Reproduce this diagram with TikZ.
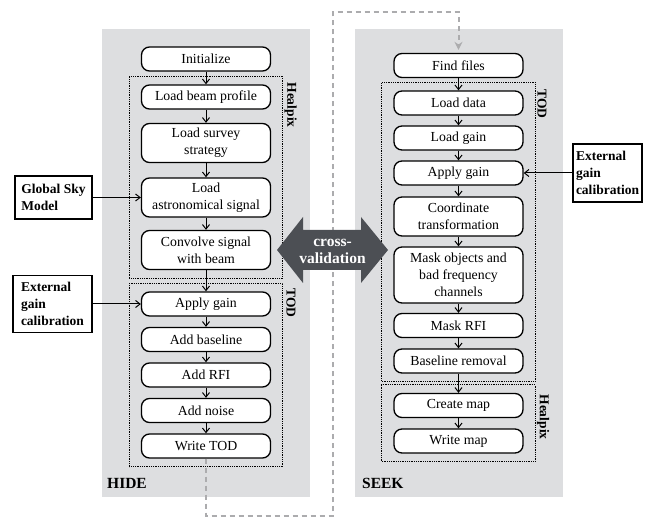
\documentclass[tikz,border=0pt]{standalone}
\usepackage{fontspec}
\setmainfont{Liberation Serif}
\usetikzlibrary{positioning,fit,backgrounds,arrows.meta}

\definecolor{panelgray}{RGB}{221,222,224}
\definecolor{loopgray}{RGB}{172,172,174}
\definecolor{xvalgray}{RGB}{76,79,84}

\begin{document}
\begin{tikzpicture}[x=1pt, y=-1pt,
  stepbox/.style={rectangle, rounded corners=8pt, draw, line width=1.3pt, fill=white, minimum width=129pt, minimum height=24pt, align=center, inner sep=0pt, font=\fontsize{13.8}{17}\selectfont},
  twoline/.style={minimum height=39pt},
  threeline/.style={minimum height=56pt},
  extbox/.style={rectangle, draw, line width=1.3pt, fill=white, align=left, inner sep=0pt, font=\bfseries\fontsize{13.5}{17}\selectfont},
  group/.style={draw, densely dotted, line width=0.8pt, inner xsep=11.5pt, inner ysep=8pt},
  grouplabel/.style={rotate=-90, font=\bfseries\fontsize{13.5}{14}\selectfont, inner sep=0pt},
  panellabel/.style={font=\bfseries\fontsize{15.5}{18}\selectfont, inner sep=0pt},
  flow/.style={-{Straight Barb[length=4.5pt, width=7pt]}, line width=1pt},
  loopline/.style={draw=loopgray, line width=2pt, dash pattern=on 5pt off 4pt, -{Stealth[length=8pt, width=8pt]}},
]
\useasboundingbox (0,0) rectangle (665,532);

% HIDE
\node[stepbox] (init) at (206,59) {Initialize};
\node[stepbox] (beam) at (206,97) {Load beam profile};
\node[stepbox, twoline] (survey) at (206,143) {Load survey\\strategy};
\node[stepbox, twoline] (astro) at (206,197.5) {Load\\astronomical signal};
\node[stepbox, twoline] (conv) at (206,250) {Convolve signal\\with beam};
\node[stepbox] (hgain) at (206,304) {Apply gain};
\node[stepbox] (hbase) at (206,339.5) {Add baseline};
\node[stepbox] (hrfi) at (206,375) {Add RFI};
\node[stepbox] (hnoise) at (206,410.5) {Add noise};
\node[stepbox] (wtod) at (206,446) {Write TOD};

% SEEK
\node[stepbox] (find) at (458.5,65.5) {Find files};
\node[stepbox] (ldata) at (458.5,103) {Load data};
\node[stepbox] (lgain) at (458.5,138) {Load gain};
\node[stepbox] (sgain) at (458.5,173) {Apply gain};
\node[stepbox, twoline] (coord) at (458.5,216.5) {Coordinate\\transformation};
\node[stepbox, threeline] (mask) at (458.5,275) {Mask objects and\\bad frequency\\channels};
\node[stepbox] (srfi) at (458.5,325.5) {Mask RFI};
\node[stepbox] (sbase) at (458.5,361) {Baseline removal};
\node[stepbox] (create) at (458.5,405.5) {Create map};
\node[stepbox] (wmap) at (458.5,441) {Write map};

% groups
\node[group, fit=(beam)(conv)] (hhpx) {};
\node[group, fit=(hgain)(wtod)] (htod) {};
\node[group, fit=(ldata)(sbase)] (stod) {};
\node[group, fit=(create)(wmap)] (shpx) {};
\node[grouplabel] (hhpxlbl) at (290.5,105) {Healpix};
\node[grouplabel] (htodlbl) at (291,303) {TOD};
\node[grouplabel] (stodlbl) at (542,104) {TOD};
\node[grouplabel] (shpxlbl) at (543,417) {Healpix};

% inputs
\node[extbox, minimum width=77pt, minimum height=43pt] (gsm) at (53.5,197.5) {Global Sky\\Model};
\node[extbox, minimum width=79pt, minimum height=57pt] (hcal) at (52.5,304) {External\\gain\\calibration};
\node[extbox, minimum width=69pt, minimum height=58pt] (scal) at (607.5,173) {External\\gain\\calibration};

\foreach \a/\b in {init/beam, beam/survey, survey/astro, astro/conv, conv/hgain,
  hgain/hbase, hbase/hrfi, hrfi/hnoise, hnoise/wtod,
  find/ldata, ldata/lgain, lgain/sgain, sgain/coord, coord/mask, mask/srfi,
  srfi/sbase, sbase/create, create/wmap}
  \draw[flow] (\a) -- (\b);
\draw[flow] (gsm) -- (astro);
\draw[flow] (hcal) -- (hgain);
\draw[flow] (scal) -- (sgain);

% loop between the two codes
\coordinate (loopa) at (333,516);
\coordinate (loopb) at (333,12);
\draw[loopline, shorten >=3pt] (wtod.south) |- (loopa) -- (loopb) -| (find.north);

% cross-validation
\fill[xvalgray] (277,250) -- (303,217) -- (303,230) -- (361,230) -- (361,217)
  -- (388,250) -- (361,283) -- (361,270) -- (303,270) -- (303,283) -- cycle;
\node[text=white, align=center, font=\bfseries\fontsize{15.5}{17}\selectfont] (xval) at (332.5,251) {cross-\\validation};

\node[panellabel, anchor=base west] (hidelbl) at (107,488) {HIDE};
\node[panellabel, anchor=base west] (seeklbl) at (362,488) {SEEK};

\begin{scope}[on background layer]
\fill[panelgray] (102,29) rectangle (310,497);
\fill[panelgray] (355,29) rectangle (563,497);
\end{scope}
\end{tikzpicture}
\end{document}
